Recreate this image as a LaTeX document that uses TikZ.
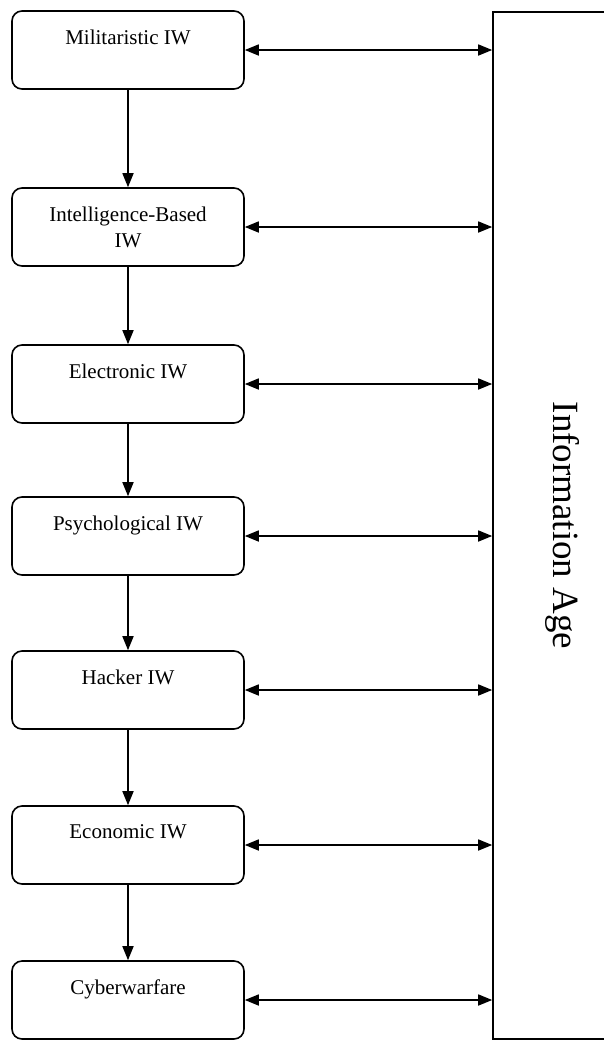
\documentclass[tikz,border=0pt]{standalone}
\usepackage{fontspec}
\setmainfont{Liberation Serif}
\usetikzlibrary{arrows.meta}
\tikzset{
    iwbox/.style={draw, rounded corners=5pt, minimum width=116pt, minimum height=39pt,
        align=center, font=\fontsize{10.5}{13}\selectfont},
    link/.style={line width=0.8pt, {Triangle[length=7pt,width=5.5pt]}-{Triangle[length=7pt,width=5.5pt]}},
    flow/.style={line width=0.8pt, -{Triangle[length=7pt,width=5.5pt]}}
}
\begin{document}
\begin{tikzpicture}[x=0.5pt, y=-0.5pt, line width=0.8pt]
        \useasboundingbox (0,0) rectangle (604,1040);
        \clip (0,0) rectangle (604,1040);

        \node[iwbox] (mil) at (128,50) {Militaristic IW\\ \mbox{}};
        \node[iwbox] (intel) at (128,227) {Intelligence-Based\\IW};
        \node[iwbox] (elec) at (128,384) {Electronic IW\\ \mbox{}};
        \node[iwbox] (psych) at (128,536) {Psychological IW\\ \mbox{}};
        \node[iwbox] (hack) at (128,690) {Hacker IW\\ \mbox{}};
        \node[iwbox] (econ) at (128,845) {Economic IW\\ \mbox{}};
        \node[iwbox] (cyber) at (128,1000) {Cyberwarfare\\ \mbox{}};

        % rotated clockwise: south is the left side
        \node[draw, rotate=-90, minimum width=513.5pt, minimum height=70pt,
            font=\fontsize{18.5}{22}\selectfont] (age) at (563,525.5) {Information Age};

        \draw[flow] (mil) -- (intel);
        \draw[flow] (intel) -- (elec);
        \draw[flow] (elec) -- (psych);
        \draw[flow] (psych) -- (hack);
        \draw[flow] (hack) -- (econ);
        \draw[flow] (econ) -- (cyber);

        \foreach \n in {mil,intel,elec,psych,hack,econ,cyber}
            \draw[link] (\n) -- (\n -| age.south);
    \end{tikzpicture}
\end{document}
